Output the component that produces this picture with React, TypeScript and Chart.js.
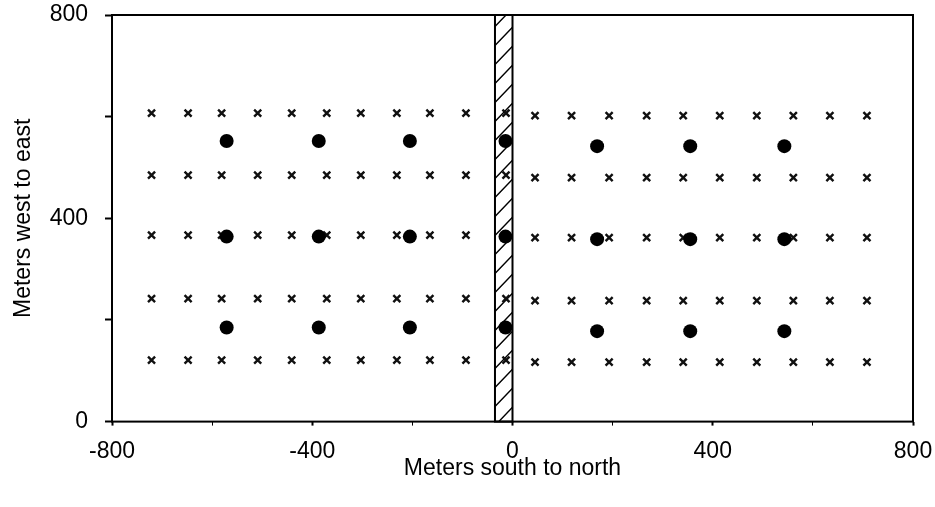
import React, { useEffect, useRef } from "react";
import { Chart, registerables } from "chart.js";

Chart.register(...registerables);

// Sampling grid (crosses), west half and east half of the transect
const westCrossX = [-721, -648, -581, -509, -441, -371, -303, -231, -165, -93, -13];
const westCrossY = [607, 485, 367, 242, 121];
const eastCrossX = [45, 118, 193, 268, 341, 414, 488, 561, 634, 708];
const eastCrossY = [602, 480, 362, 238, 117];

// Trap stations (filled circles)
const westTrapX = [-571, -387, -205, -14];
const westTrapY = [552, 364, 185];
const eastTrapX = [169, 355, 543];
const eastTrapY = [542, 359, 178];

// Hatched strip along the road
const stripX = [-35, 0];
const stripY = [0, 800];

// Axis ranges and labelled ticks
const xRange = [-800, 800];
const yRange = [0, 800];
const xLabelled = [-800, -400, 0, 400, 800];
const yLabelled = [0, 400, 800];

const FONT = "'Liberation Sans', Arial, Helvetica, sans-serif";
const FONT_SIZE = 23;

function grid(xs: number[], ys: number[]) {
  const pts: { x: number; y: number }[] = [];
  for (const y of ys) for (const x of xs) pts.push({ x, y });
  return pts;
}

function clearScalePadding(s: any) {
  s.paddingTop = 0;
  s.paddingBottom = 0;
  s.paddingLeft = 0;
  s.paddingRight = 0;
}

const frameAndStrip = {
  id: "frameAndStrip",
  beforeDatasetsDraw(chart: any) {
    const { ctx, scales } = chart;
    const x0 = scales.x.getPixelForValue(stripX[0]);
    const x1 = scales.x.getPixelForValue(stripX[1]);
    const yb = scales.y.getPixelForValue(stripY[0]);
    const yt = scales.y.getPixelForValue(stripY[1]);
    const w = x1 - x0;
    ctx.save();
    ctx.fillStyle = "#fff";
    ctx.fillRect(x0, yt, w, yb - yt);
    ctx.beginPath();
    ctx.rect(x0, yt, w, yb - yt);
    ctx.clip();
    ctx.beginPath();
    ctx.strokeStyle = "#000";
    ctx.lineWidth = 1.4;
    const rise = w * 1.05;
    for (let y = yb + 4; y > yt - rise - 20; y -= 19) {
      ctx.moveTo(x0, y);
      ctx.lineTo(x1, y - rise);
    }
    ctx.stroke();
    ctx.restore();
    ctx.save();
    ctx.strokeStyle = "#000";
    ctx.lineWidth = 2;
    ctx.strokeRect(x0, yt, w, yb - yt);
    ctx.restore();
  },
  afterDraw(chart: any) {
    const { ctx, chartArea } = chart;
    ctx.save();
    ctx.strokeStyle = "#000";
    ctx.lineWidth = 2;
    ctx.strokeRect(
      chartArea.left,
      chartArea.top,
      chartArea.right - chartArea.left,
      chartArea.bottom - chartArea.top
    );
    ctx.restore();
  },
};

export default function App() {
  const ref = useRef<HTMLCanvasElement | null>(null);

  useEffect(() => {
    if (!ref.current) return;
    const trapStyle = {
      pointStyle: "circle",
      pointRadius: 7,
      pointBackgroundColor: "#000",
      pointBorderColor: "#000",
      pointBorderWidth: 0,
      showLine: false,
    };
    const crossStyle = {
      pointStyle: "crossRot",
      pointRadius: 5,
      pointBorderColor: "#111",
      pointBorderWidth: 2.4,
      showLine: false,
    };
    const chart = new Chart(ref.current, {
      type: "scatter",
      data: {
        datasets: [
          { label: "Traps west", data: grid(westTrapX, westTrapY), ...trapStyle } as any,
          { label: "Traps east", data: grid(eastTrapX, eastTrapY), ...trapStyle } as any,
          { label: "Grid west", data: grid(westCrossX, westCrossY), ...crossStyle } as any,
          { label: "Grid east", data: grid(eastCrossX, eastCrossY), ...crossStyle } as any,
        ],
      },
      options: {
        responsive: false,
        animation: false,
        layout: { padding: { left: 0, right: 22, top: 15, bottom: 0 } },
        plugins: {
          legend: { display: false },
          tooltip: { enabled: false },
        },
        scales: {
          x: {
            type: "linear",
            min: xRange[0],
            max: xRange[1],
            afterFit: (s: any) => {
              s.height = 85.4;
              clearScalePadding(s);
            },
            ticks: {
              stepSize: 200,
              autoSkip: false,
              maxRotation: 0,
              padding: 12,
              color: "#000",
              font: { family: FONT, size: FONT_SIZE },
              callback: (v: any) => (xLabelled.includes(Number(v)) ? String(v) : ""),
            },
            grid: {
              drawOnChartArea: false,
              drawTicks: true,
              tickLength: 4,
              tickColor: "#000",
              tickWidth: (c: any) => (xLabelled.includes(c.tick?.value) ? 2 : 1),
            },
            border: { display: false },
            title: {
              display: true,
              text: "Meters south to north",
              color: "#000",
              font: { family: FONT, size: FONT_SIZE },
              padding: { top: 0, bottom: 25 },
            },
          },
          y: {
            type: "linear",
            min: yRange[0],
            max: yRange[1],
            afterFit: (s: any) => {
              s.width = 112;
              clearScalePadding(s);
            },
            ticks: {
              stepSize: 200,
              autoSkip: false,
              padding: 17,
              color: "#000",
              font: { family: FONT, size: FONT_SIZE },
              callback: (v: any) => (yLabelled.includes(Number(v)) ? String(v) : ""),
            },
            grid: {
              drawOnChartArea: false,
              drawTicks: true,
              tickLength: 7,
              tickColor: "#000",
              tickWidth: 2,
            },
            border: { display: false },
            title: {
              display: true,
              text: "Meters west to east",
              color: "#000",
              font: { family: FONT, size: FONT_SIZE },
              padding: { top: 10, bottom: 0 },
            },
          },
        },
      },
      plugins: [frameAndStrip],
    } as any);
    return () => chart.destroy();
  }, []);

  return (
    <div style={{ position: "absolute", left: 0, top: 0, width: 935, height: 507, background: "#fff" }}>
      <canvas ref={ref} width={935} height={507} />
    </div>
  );
}
